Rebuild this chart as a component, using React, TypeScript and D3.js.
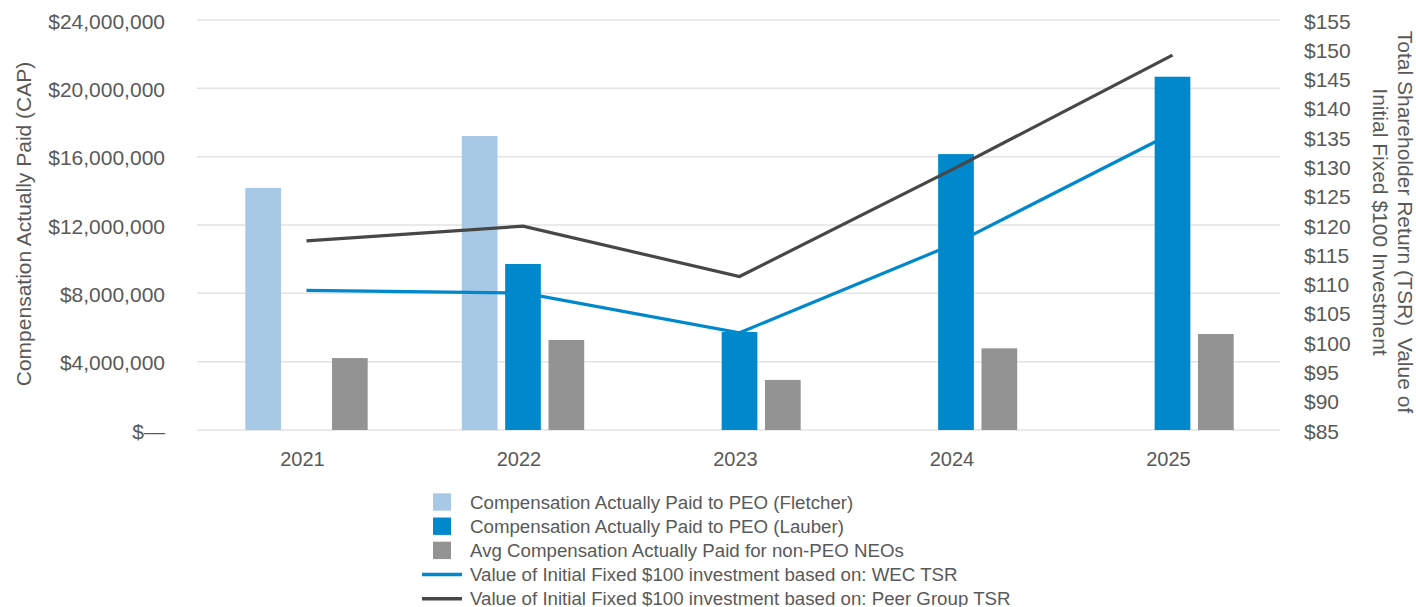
import React from "react";
import * as d3 from "d3";

const years = ["2021", "2022", "2023", "2024", "2025"];
const fletcherCAP: (number | null)[] = [14170000, 17210000, null, null, null];
const lauberCAP: (number | null)[] = [null, 9720000, 5740000, 16150000, 20680000];
const avgNeoCAP: (number | null)[] = [4210000, 5270000, 2930000, 4780000, 5620000];
const wecTSR = [108.85, 108.4, 101.6, 116.9, 135.7];
const peerTSR = [117.3, 119.8, 111.2, 129.8, 149.0];
const leftTicks = [0, 4000000, 8000000, 12000000, 16000000, 20000000, 24000000];
const rightTicks = [85, 90, 95, 100, 105, 110, 115, 120, 125, 130, 135, 140, 145, 150, 155];
const seriesKeys = ["fletcher", "lauber", "avg"];
const legendItems = [
  { label: "Compensation Actually Paid to PEO (Fletcher)", kind: "rect", color: "#a7c9e6" },
  { label: "Compensation Actually Paid to PEO (Lauber)", kind: "rect", color: "#0088cc" },
  { label: "Avg Compensation Actually Paid for non-PEO NEOs", kind: "rect", color: "#939393" },
  { label: "Value of Initial Fixed $100 investment based on: WEC TSR", kind: "line", color: "#0088cc" },
  { label: "Value of Initial Fixed $100 investment based on: Peer Group TSR", kind: "line", color: "#474747" },
];

const TEXT = "#595959";
const FONT = "'Liberation Sans', Arial, sans-serif";

export default function App() {
  const left = 198.25, right = 1280.75, top = 20, bottom = 430;
  const x0 = d3.scaleBand<string>().domain(years).range([left, right]).padding(0);
  const x1 = d3.scaleBand<string>().domain(seriesKeys).range([-65, 65]).paddingInner(0.176).paddingOuter(0.088);
  const yL = d3.scaleLinear().domain([0, 24000000]).range([bottom, top]);
  const yR = d3.scaleLinear().domain([85, 155]).range([bottom, top]);
  const cx = (y: string) => (x0(y) as number) + x0.bandwidth() / 2;
  const fmt = (v: number) => (v === 0 ? "$\u2014" : "$" + d3.format(",")(v));

  const bars = (vals: (number | null)[], key: string, color: string) =>
    vals.map((v, i) =>
      v == null ? null : (
        <rect
          key={key + i}
          x={cx(years[i]) + (x1(key) as number)}
          y={yL(v)}
          width={x1.bandwidth()}
          height={yL(0) - yL(v)}
          fill={color}
        />
      )
    );

  const line = d3
    .line<number>()
    .x((_, i) => cx(years[i]))
    .y((d) => yR(d));

  return (
    <svg
      width={1416}
      height={607}
      style={{ position: "absolute", left: 0, top: 0, background: "#fff" }}
      fontFamily={FONT}
    >
      {leftTicks.map((t) => (
        <line key={"g" + t} x1={197} x2={1280} y1={yL(t)} y2={yL(t)} stroke="#e3e3e3" strokeWidth={1.5} />
      ))}
      {leftTicks.map((t) => (
        <text key={"l" + t} x={165} y={yL(t) + 1} textAnchor="end" dominantBaseline="central" fontSize={21} fill={TEXT}>
          {fmt(t)}
        </text>
      ))}
      {rightTicks.map((t) => (
        <text key={"r" + t} x={1304} y={yR(t) + 1} textAnchor="start" dominantBaseline="central" fontSize={21} fill={TEXT}>
          {"$" + t}
        </text>
      ))}
      {years.map((y) => (
        <text key={"x" + y} x={cx(y) - 4} y={459} textAnchor="middle" dominantBaseline="central" fontSize={20} fill={TEXT}>
          {y}
        </text>
      ))}
      <text
        transform="translate(23,224) rotate(-90)"
        textAnchor="middle"
        dominantBaseline="central"
        fontSize={21}
        fill={TEXT}
      >
        Compensation Actually Paid (CAP)
      </text>
      <text transform="translate(1405,222) rotate(90)" textAnchor="middle" dominantBaseline="central" fontSize={21} fill={TEXT}>
        {"Total Shareholder Return (TSR)\u00a0 Value of"}
      </text>
      <text transform="translate(1380,222) rotate(90)" textAnchor="middle" dominantBaseline="central" fontSize={21} fill={TEXT}>
        Initial Fixed $100 Investment
      </text>

      {bars(fletcherCAP, "fletcher", "#a7c9e6")}
      <path d={line(wecTSR) || ""} fill="none" stroke="#0088cc" strokeWidth={3.2} />
      {bars(lauberCAP, "lauber", "#0088cc")}
      {bars(avgNeoCAP, "avg", "#939393")}
      <path d={line(peerTSR) || ""} fill="none" stroke="#474747" strokeWidth={3.2} />

      {legendItems.map((it, i) => {
        const cy = 502 + i * 24.2;
        return (
          <g key={"lg" + i}>
            {it.kind === "rect" ? (
              <rect x={433} y={cy - 8.7} width={18} height={17.4} fill={it.color} />
            ) : (
              <line x1={422} x2={462} y1={cy} y2={cy} stroke={it.color} strokeWidth={3.5} />
            )}
            <text x={470} y={cy} dominantBaseline="central" fontSize={18.7} fill={TEXT}>
              {it.label}
            </text>
          </g>
        );
      })}
    </svg>
  );
}
